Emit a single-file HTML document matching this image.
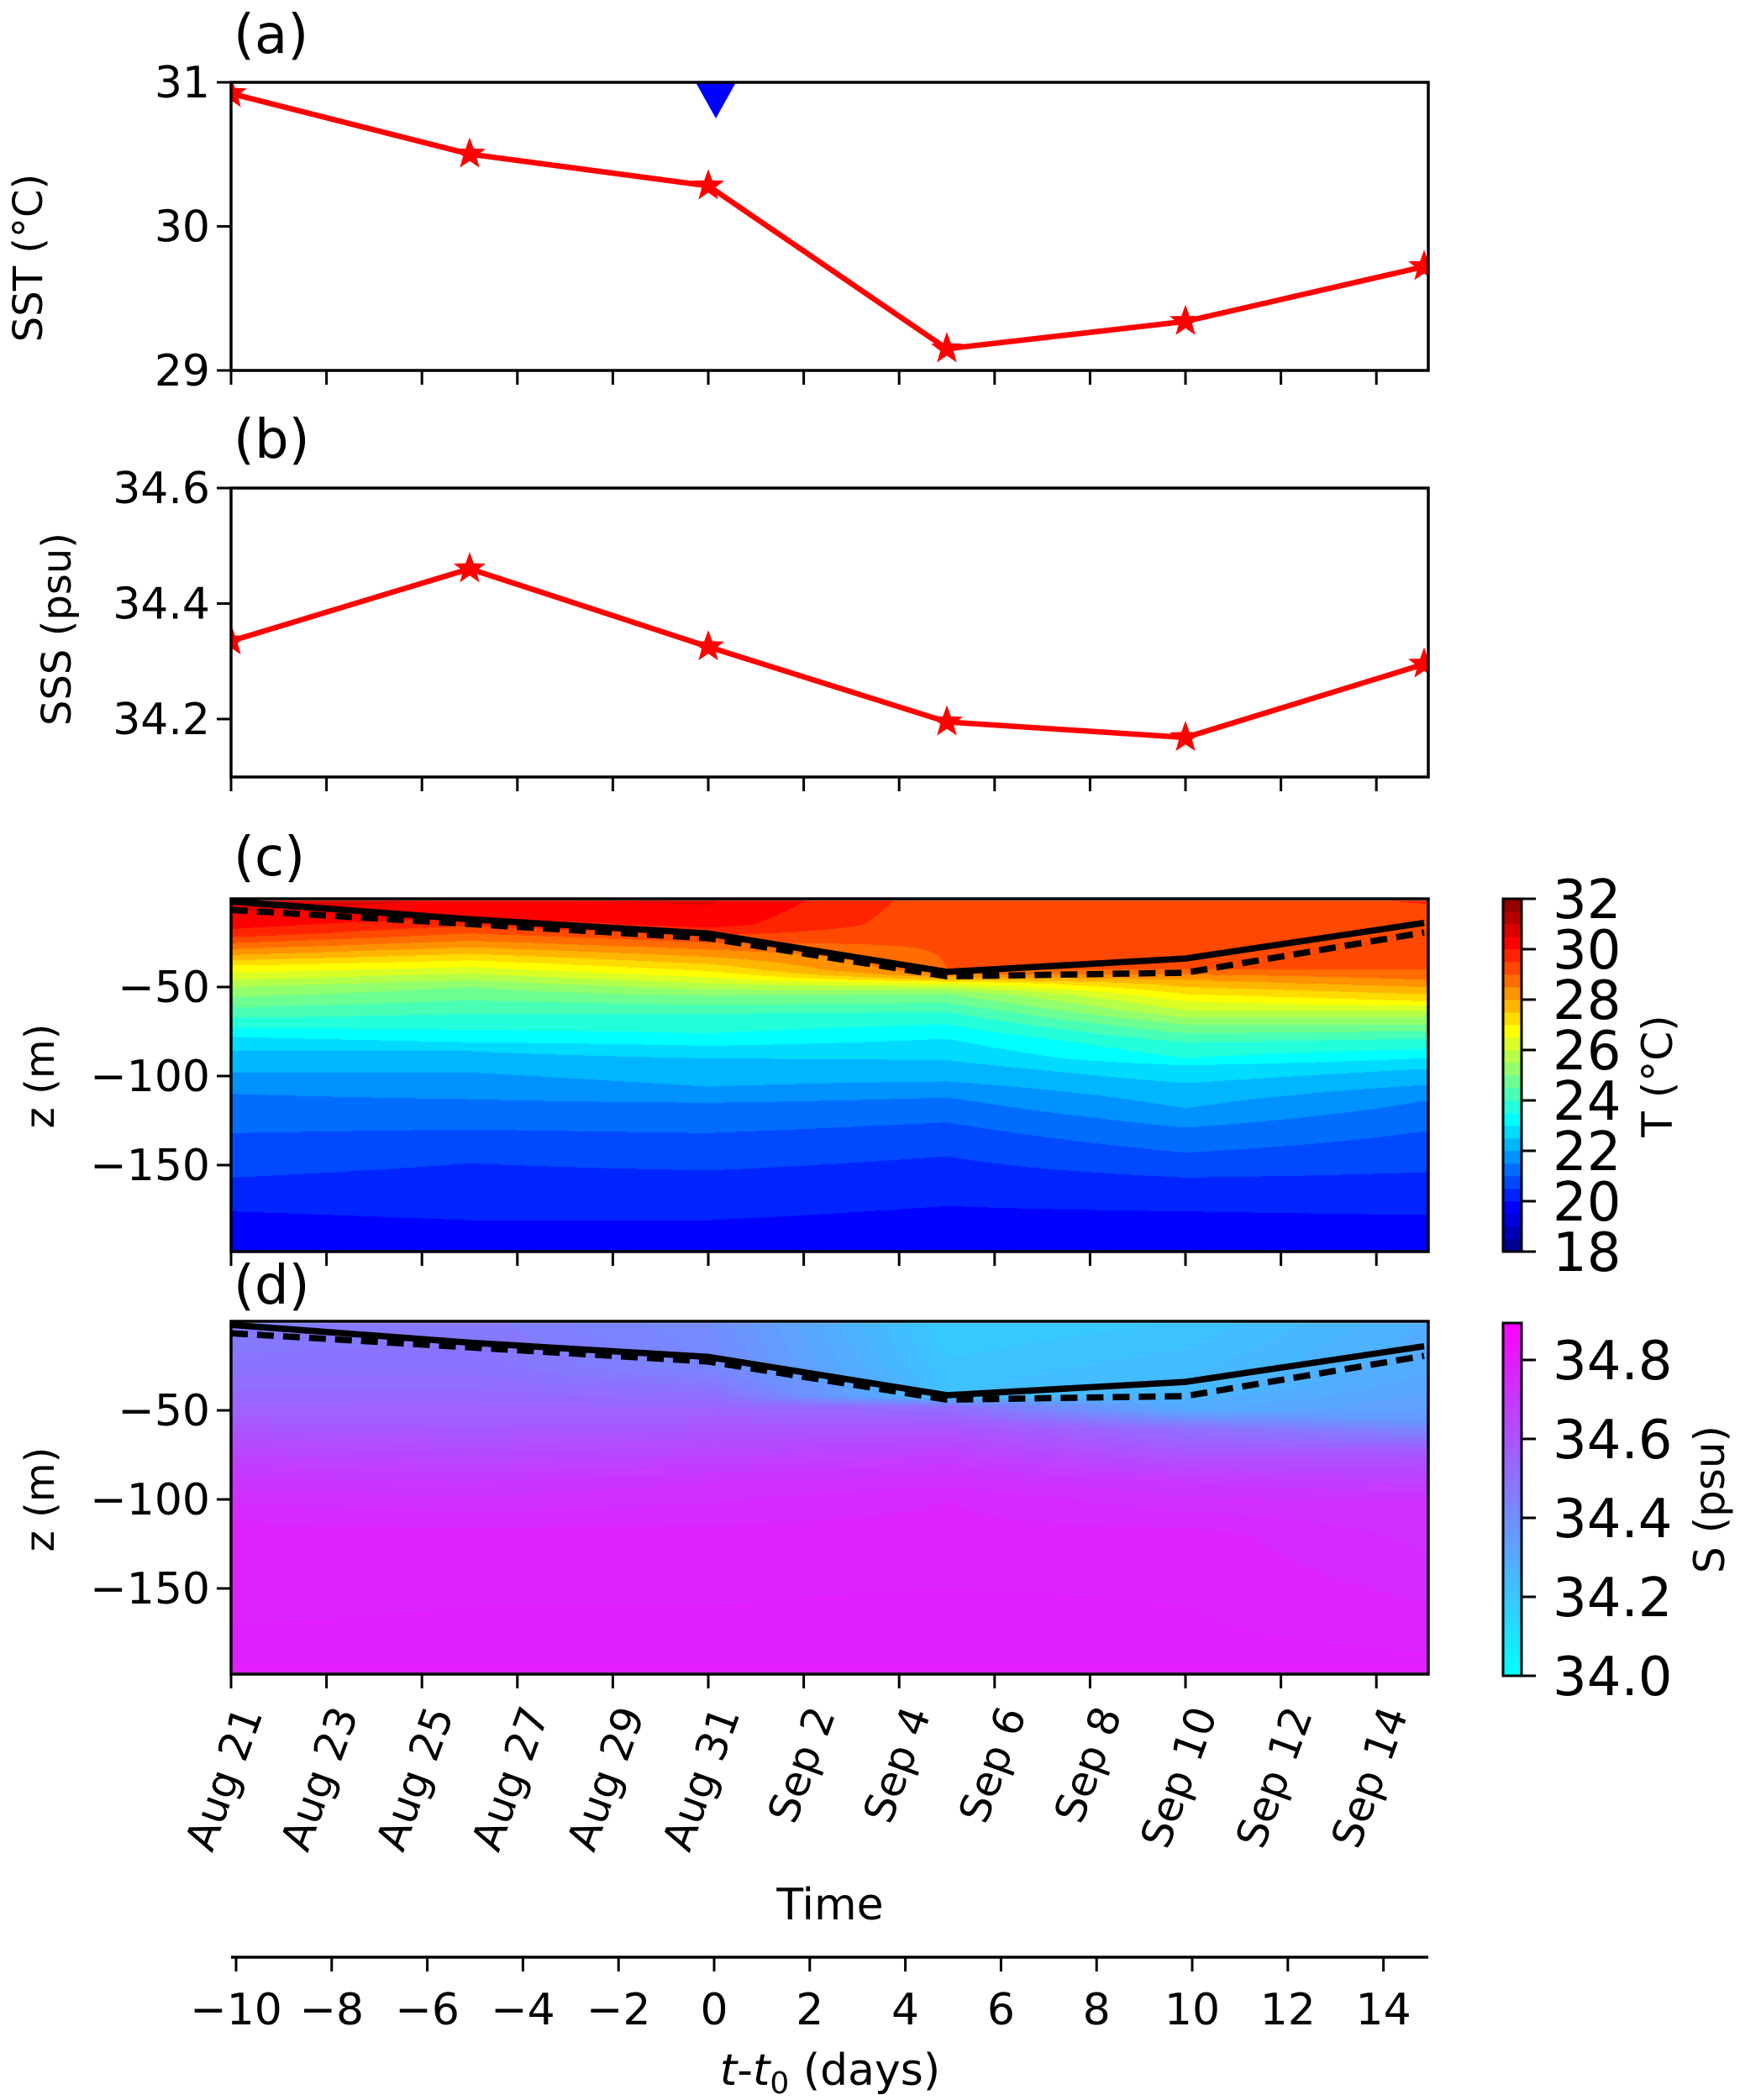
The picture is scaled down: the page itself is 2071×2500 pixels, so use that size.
<!DOCTYPE html>
<html><head><meta charset="utf-8">
<style>
html,body{margin:0;padding:0;background:#fff;}
body{width:2071px;height:2500px;position:relative;overflow:hidden;}
canvas{position:absolute;}
svg{position:absolute;left:0;top:0;}
text{font-family:"DejaVu Sans","Liberation Sans",sans-serif;fill:#000;}
</style></head><body>
<canvas id="ct" width="1425" height="420" style="left:275px;top:1070px"></canvas>
<canvas id="cs" width="1425" height="420" style="left:275px;top:1573px"></canvas>
<svg id="s" width="2071" height="2500" viewBox="0 0 2071 2500">
<defs>
<linearGradient id="cool" x1="0" y1="1" x2="0" y2="0">
<stop offset="0" stop-color="#00ffff"/><stop offset="1" stop-color="#ff00ff"/>
</linearGradient>
</defs>
<g id="g"></g>
</svg>
<script>
var X0=275,X1=1700,PD=56.8;
function colx(k){return X0+284*k;}
var Tp=[
[[0,30.8],[15,30.2],[20,29.8],[32,28],[38,27],[50,25.5],[73,23.5],[78,23],[86,22.5],[98,22],[110,21.5],[132,21],[157,20.5],[176,20],[200,19.6]],
[[0,30.5],[10,30.2],[24,28.5],[35,27],[50,25],[65,24],[74,23.5],[81,23],[86,22.5],[98,22],[113,21.5],[130,21],[149,20.5],[181,20],[200,19.6]],
[[0,30.6],[15,30.2],[21,29.5],[33,28],[41,27],[55,25],[65,24],[76,23.5],[83,23],[90,22.5],[106,22],[115,21.5],[132,21],[153,20.5],[181,20],[200,19.6]],
[[0,29.2],[40,29],[43,28.5],[46,27.5],[48,26.5],[54,25],[64,24],[71,23.5],[79,23],[91,22.5],[103,22],[112,21.5],[126,21],[145,20.5],[173,20],[200,19.6]],
[[0,29.2],[40,29],[46,28],[54,27],[58,26.5],[63,26],[71,25],[81,24],[90,23.5],[94,23],[104,22.5],[118,22],[129,21.5],[143,21],[157,20.5],[176,20],[200,19.6]],
[[0,29.6],[10,29.3],[40,29],[46,28.5],[50,28],[58,27],[63,26],[71,25],[79,24],[85,23.5],[90,23],[96,22.5],[105,22],[114,21.5],[131,21],[154,20.5],[178,20],[200,19.6]]];
var Sp=[
[[0,34.45],[30,34.5],[50,34.55],[80,34.68],[110,34.76],[200,34.79]],
[[0,34.47],[30,34.5],[60,34.58],[90,34.7],[120,34.77],[200,34.79]],
[[0,34.4],[25,34.42],[50,34.55],[90,34.72],[120,34.77],[200,34.79]],
[[0,34.18],[42,34.22],[48,34.5],[60,34.6],[80,34.7],[100,34.76],[200,34.8]],
[[0,34.2],[38,34.25],[50,34.3],[60,34.5],[90,34.7],[120,34.77],[200,34.79]],
[[0,34.28],[30,34.3],[55,34.35],[75,34.6],[100,34.72],[200,34.79]]];
function pi(p,d){if(d<=p[0][0])return p[0][1];for(var i=1;i<p.length;i++){if(d<=p[i][0]){var a=p[i-1],b=p[i];return a[1]+(b[1]-a[1])*(d-a[0])/(b[0]-a[0]);}}return p[p.length-1][1];}
function cl(v){return Math.max(0,Math.min(1,v));}
function jet(v){return [cl(1.5-Math.abs(4*v-3)),cl(1.5-Math.abs(4*v-2)),cl(1.5-Math.abs(4*v-1))];}
function draw(id,P,z0off,colf){
 var c=document.getElementById(id),ctx=c.getContext('2d'),W=c.width,H=c.height;
 var im=ctx.createImageData(W,H),pre=[];
 for(var k=0;k<6;k++){pre[k]=[];for(var y=0;y<H;y++){pre[k][y]=pi(P[k],(y+z0off)/2.12);}}
 for(var x=0;x<W;x++){var cc=Math.min(4.999,Math.max(0,(x+0.5)/284));var i=Math.floor(cc),f=cc-i;
  for(var y=0;y<H;y++){var v=pre[i][y]*(1-f)+pre[i+1][y]*f;var col=colf(v);var o=(y*W+x)*4;
   im.data[o]=col[0]*255;im.data[o+1]=col[1]*255;im.data[o+2]=col[2]*255;im.data[o+3]=255;}}
 ctx.putImageData(im,0,0);
 ctx.fillStyle='#fff';ctx.fillRect(0,0,W,2);
}
draw('ct',Tp,1.5,function(T){var l=Math.floor(T/0.5)*0.5+0.25;return jet((l-18)/14);});
draw('cs',Sp,0.5,function(S){var l=Math.floor(S/0.02)*0.02+0.01;var f=cl((l-34)/0.894);return [f,1-f,1];});

var s='';
function T(x,y,t,sz,extra){s+='<text x="'+x+'" y="'+y+'" font-size="'+sz+'" '+(extra||'')+'>'+t+'</text>';}
function L(x1,y1,x2,y2,w){s+='<line x1="'+x1+'" y1="'+y1+'" x2="'+x2+'" y2="'+y2+'" stroke="#000" stroke-width="'+(w||3)+'"/>';}
function star(x,y){var p=[];for(var i=0;i<10;i++){var r=i%2?7:17,a=-Math.PI/2+i*Math.PI/5;p.push((x+r*Math.cos(a)).toFixed(1)+','+(y+r*Math.sin(a)).toFixed(1));}s+='<polygon points="'+p.join(' ')+'" fill="red" stroke="red" stroke-width="2"/>';}
var panels=[[98,441],[581,925],[1070,1490],[1573,1993]];
var sst=[30.92,30.5,30.28,29.15,29.34,29.72],sss=[34.335,34.46,34.325,34.195,34.168,34.295];
function series(vals,fy){var pts=[];for(var k=0;k<6;k++)pts.push([Math.min(colx(k),1699),fy(vals[k])]);
 s+='<polyline points="'+pts.map(function(p){return p.join(',')}).join(' ')+'" fill="none" stroke="red" stroke-width="6.5" stroke-linejoin="round"/>';
 pts.forEach(function(p){star(p[0],p[1]);});}
s+='<svg x="275" y="98" width="1425" height="343" overflow="hidden" style="overflow:hidden"><g transform="translate(-275,-98)">';
series(sst,function(v){return 441-(v-29)*171.7;});
s+='<polygon points="828,98 876,98 852,141" fill="#0000ff"/></g></svg>';
s+='<svg x="275" y="581" width="1425" height="344" overflow="hidden"><g transform="translate(-275,-581)">';
series(sss,function(v){return 856-(v-34.2)*688;});
s+='</g></svg>';
var ms=[2,12,20,41.5,34,14],md=[6.7,14.6,22.6,44,42,19.4];
function mld(z0,top){
 var a=[],b=[];for(var k=0;k<6;k++){var x=Math.min(colx(k),1699);a.push(x+','+(z0+ms[k]*2.12).toFixed(1));b.push(x+','+(z0+md[k]*2.12).toFixed(1));}
 s+='<svg x="275" y="'+top+'" width="1425" height="420"><g transform="translate(-275,-'+top+')">';
 s+='<polyline points="'+b.join(' ')+'" fill="none" stroke="#000" stroke-width="7.5" stroke-dasharray="20,11"/>';
 s+='<polyline points="'+a.join(' ')+'" fill="none" stroke="#000" stroke-width="7.5"/>';
 s+='</g></svg>';}
mld(1069,1070);mld(1573,1573);
panels.forEach(function(p){s+='<rect x="275" y="'+p[0]+'" width="1425" height="'+(p[1]-p[0])+'" fill="none" stroke="#000" stroke-width="3.5"/>';
 for(var d=0;d<=24;d+=2){var x=X0+d*PD;L(x,p[1],x,p[1]+17,3);}});
function yt(y,lab){L(258,y,275,y,3);T(250,y+18,lab,52,'text-anchor="end"');}
yt(98,'31');yt(269.5,'30');yt(441,'29');
yt(581,'34.6');yt(718.5,'34.4');yt(856,'34.2');
yt(1175,'−50');yt(1281,'−100');yt(1387,'−150');
yt(1679,'−50');yt(1785,'−100');yt(1891,'−150');
T(278,63,'(a)',64);T(278,545,'(b)',64);T(278,1042,'(c)',64);T(278,1552,'(d)',64);
T(50,307,'SST (°C)',48,'text-anchor="middle" transform="rotate(-90 50 307)"');
T(84,749,'SSS (psu)',48,'text-anchor="middle" transform="rotate(-90 84 749)"');
T(64,1281,'z (m)',48,'text-anchor="middle" transform="rotate(-90 64 1281)"');
T(64,1785,'z (m)',48,'text-anchor="middle" transform="rotate(-90 64 1785)"');
var dl=['Aug 21','Aug 23','Aug 25','Aug 27','Aug 29','Aug 31','Sep 2','Sep 4','Sep 6','Sep 8','Sep 10','Sep 12','Sep 14'];
for(var i=0;i<13;i++){var x=X0+2*i*PD+38,y=2040;T(x,y,dl[i],50,'text-anchor="end" transform="rotate(-70 '+x+' '+y+')"');}
T(988,2285,'Time',52,'text-anchor="middle"');
L(275,2330,1700,2330,3.5);
for(var t=-10;t<=14;t+=2){var x=281+56.9*(t+10);L(x,2330,x,2347,3);T(x,2410,(t<0?'−':'')+Math.abs(t),52,'text-anchor="middle"');}
s+='<text x="988" y="2482" font-size="52" text-anchor="middle"><tspan font-style="oblique">t</tspan>-<tspan font-style="oblique">t</tspan><tspan font-size="36" dy="10">0</tspan><tspan dy="-10"> (days)</tspan></text>';
for(var i=0;i<28;i++){var l=18+i*0.5+0.25,c=jet((l-18)/14);var y0=1490-(i+1)*15;
 s+='<rect x="1789" y="'+y0+'" width="22" height="15.3" fill="rgb('+Math.round(c[0]*255)+','+Math.round(c[1]*255)+','+Math.round(c[2]*255)+')"/>';}
s+='<rect x="1789" y="1070" width="22" height="420" fill="none" stroke="#000" stroke-width="3"/>';
for(var v=18;v<=32;v+=2){var y=1490-(v-18)*30;L(1811,y,1828,y,3);T(1848,y+23,v,64);}
T(1990,1281,'T (°C)',50,'text-anchor="middle" transform="rotate(-90 1990 1281)"');
s+='<rect x="1789" y="1575" width="22" height="420" fill="url(#cool)" stroke="#000" stroke-width="3"/>';
['34.0','34.2','34.4','34.6','34.8'].forEach(function(lab,i){var y=1995-i*0.2*470;L(1811,y,1828,y,3);T(1848,y+23,lab,64);});
T(2052,1785,'S (psu)',50,'text-anchor="middle" transform="rotate(-90 2052 1785)"');
document.getElementById('g').innerHTML=s;
</script>
</body></html>
